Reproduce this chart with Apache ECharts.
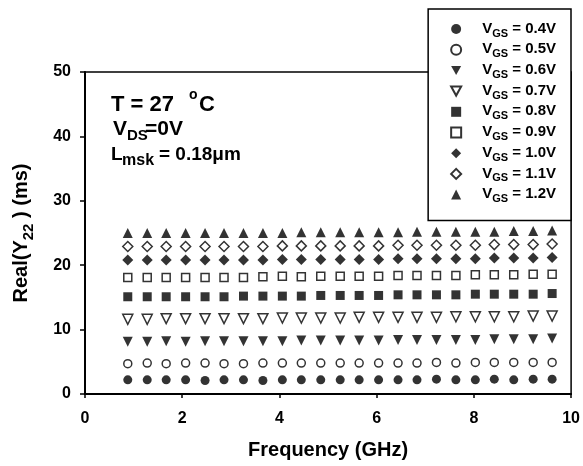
<!DOCTYPE html>
<html>
<head>
<meta charset="utf-8">
<script src="https://cdn.jsdelivr.net/npm/echarts@6/dist/echarts.min.js"></script>
<style>
  html, body { margin: 0; padding: 0; background: #fff; }
  #chart { width: 583px; height: 466px; }
</style>
</head>
<body>
<div id="chart"></div>
<script>
// frequency points (GHz)
const freq = [0.88, 1.28, 1.67, 2.07, 2.47, 2.86, 3.26, 3.66, 4.06, 4.45, 4.85, 5.25,
  5.64, 6.04, 6.44, 6.83, 7.23, 7.63, 8.03, 8.42, 8.82, 9.22, 9.61];

// Real(Y22) in ms, one array per VGS
const v04 = [2.2, 2.2, 2.2, 2.2, 2.1, 2.2, 2.2, 2.1, 2.2, 2.2, 2.2, 2.2, 2.2, 2.2, 2.2, 2.2, 2.3, 2.2, 2.2, 2.3, 2.2, 2.3, 2.3];
const v05 = [4.7, 4.8, 4.7, 4.8, 4.8, 4.7, 4.7, 4.8, 4.8, 4.8, 4.8, 4.8, 4.8, 4.8, 4.8, 4.8, 4.9, 4.8, 4.9, 4.9, 4.9, 4.9, 4.9];
const v06 = [8.1, 8.1, 8.2, 8.1, 8.2, 8.2, 8.2, 8.2, 8.2, 8.3, 8.3, 8.3, 8.3, 8.3, 8.4, 8.4, 8.4, 8.4, 8.4, 8.5, 8.5, 8.5, 8.6];
const v07 = [11.6, 11.6, 11.7, 11.7, 11.7, 11.7, 11.7, 11.7, 11.8, 11.8, 11.8, 11.8, 11.9, 11.9, 11.9, 11.9, 11.9, 12.0, 12.0, 12.0, 12.0, 12.1, 12.1];
const v08 = [15.1, 15.1, 15.1, 15.1, 15.1, 15.1, 15.2, 15.2, 15.2, 15.2, 15.3, 15.3, 15.3, 15.3, 15.4, 15.4, 15.4, 15.4, 15.5, 15.5, 15.5, 15.5, 15.6];
const v09 = [18.1, 18.1, 18.1, 18.1, 18.1, 18.1, 18.1, 18.2, 18.3, 18.2, 18.3, 18.3, 18.3, 18.3, 18.4, 18.4, 18.4, 18.4, 18.5, 18.5, 18.5, 18.6, 18.6];
const v10 = [20.8, 20.8, 20.8, 20.8, 20.8, 20.8, 20.8, 20.8, 20.9, 20.9, 20.9, 20.9, 20.9, 20.9, 21.0, 21.0, 21.0, 21.0, 21.0, 21.1, 21.1, 21.1, 21.2];
const v11 = [22.9, 22.9, 22.9, 22.9, 22.9, 22.9, 22.9, 22.9, 23.0, 23.0, 23.0, 23.0, 23.0, 23.0, 23.1, 23.1, 23.1, 23.1, 23.1, 23.2, 23.2, 23.2, 23.3];
const v12 = [25.0, 25.0, 25.0, 25.0, 25.0, 25.0, 25.0, 25.0, 25.0, 25.1, 25.1, 25.1, 25.1, 25.1, 25.1, 25.2, 25.2, 25.2, 25.2, 25.2, 25.3, 25.3, 25.4];

const vgsLabels = ["0.4V", "0.5V", "0.6V", "0.7V", "0.8V", "0.9V", "1.0V", "1.1V", "1.2V"];
const xTicks = [0, 2, 4, 6, 8, 10];
const yTicks = [0, 10, 20, 30, 40, 50];

const FONT = "'Liberation Sans', Arial, sans-serif";
const DOWN_TRI = "path://M0,0L10,0L5,9Z";

// 每条曲线的符号：实心 / 空心交替
const markers = [
  { symbol: "circle", size: 9, hollow: false, rotate: 0 },
  { symbol: "circle", size: 8, hollow: true, rotate: 0 },
  { symbol: "triangle", size: 10, hollow: false, rotate: 180 },
  { symbol: "triangle", size: 10, hollow: true, rotate: 180 },
  { symbol: "rect", size: 9, hollow: false, rotate: 0 },
  { symbol: "rect", size: 8, hollow: true, rotate: 0 },
  { symbol: "diamond", size: 11, hollow: false, rotate: 0 },
  { symbol: "diamond", size: 10, hollow: true, rotate: 0 },
  { symbol: "triangle", size: 10, hollow: false, rotate: 0 },
];

const allData = [v04, v05, v06, v07, v08, v09, v10, v11, v12];

const chart = echarts.init(document.getElementById("chart"));

const series = allData.map((vals, i) => ({
  name: vgsLabels[i],
  type: "scatter",
  data: vals.map((v, k) => [freq[k], v]),
  symbol: markers[i].symbol,
  symbolSize: markers[i].size,
  symbolRotate: markers[i].rotate,
  itemStyle: markers[i].hollow
    ? { color: "#fff", borderColor: "#000", borderWidth: 1.5 }
    : { color: "#000" },
  z: 3,
}));

// 注释文字（上标 / 下标分开放）
const txt = (x, y, text, size) => ({
  type: "text",
  x, y,
  style: { text, font: `bold ${size}px ${FONT}`, fill: "#000", verticalAlign: "middle" },
  z: 10,
});

const bold = (size, extra) => Object.assign(
  { fontFamily: FONT, fontWeight: "bold", fontSize: size, color: "#000" }, extra);

chart.setOption({
  animation: false,
  backgroundColor: "#fff",
  grid: {
    left: 85, right: 11, top: 72, bottom: 72,
    show: true, borderColor: "#000", borderWidth: 1.5,
  },
  xAxis: {
    type: "value",
    min: xTicks[0], max: xTicks[xTicks.length - 1], interval: 2,
    name: "Frequency (GHz)",
    nameLocation: "middle",
    nameGap: 46,
    nameTextStyle: bold(20),
    axisLine: { lineStyle: { color: "#000", width: 2 } },
    axisTick: { inside: false, length: 4, lineStyle: { color: "#000", width: 1.5 } },
    axisLabel: Object.assign({ margin: 17 }, bold(16)),
    splitLine: { show: false },
  },
  yAxis: {
    type: "value",
    min: yTicks[0], max: yTicks[yTicks.length - 1], interval: 10,
    name: "{a|Real(Y}{s|22}{a| ) (ms)}",
    nameLocation: "middle",
    nameRotate: 90,
    nameGap: 52,
    nameTextStyle: {
      rich: {
        a: bold(20, { lineHeight: 22, verticalAlign: "top" }),
        s: bold(15, { lineHeight: 16, padding: [10, 0, 0, 0], verticalAlign: "top" }),
      },
    },
    axisLine: { lineStyle: { color: "#000", width: 2 } },
    axisTick: { inside: false, length: 5, lineStyle: { color: "#000", width: 1.5 } },
    axisLabel: Object.assign({ margin: 14 }, bold(16)),
    splitLine: { show: false },
  },
  legend: {
    orient: "vertical",
    right: 12,
    top: 9,
    padding: [12, 15, 16, 22],
    backgroundColor: "#fff",
    borderColor: "#000",
    borderWidth: 1.5,
    borderRadius: 0,
    itemWidth: 10,
    itemHeight: 10,
    itemGap: 2.7,
    data: vgsLabels.map((n, i) => (markers[i].rotate ? { name: n, icon: DOWN_TRI } : { name: n })),
    formatter: (n) => "{f|V}{s|GS}{v| = " + n + "}",
    textStyle: {
      rich: {
        f: bold(15, { lineHeight: 16, verticalAlign: "top", padding: [0, 0, 0, 16] }),
        v: bold(15, { lineHeight: 16, verticalAlign: "top" }),
        s: bold(11, { lineHeight: 12, padding: [7, 0, 0, 0], verticalAlign: "top" }),
      },
    },
  },
  graphic: [
    txt(111, 105, "T = 27", 22),
    txt(189, 95, "o", 14),
    txt(199, 105, "C", 22),
    txt(113, 129, "V", 21),
    txt(127, 136, "DS", 15),
    txt(145, 129, "=0V", 21),
    txt(111, 155, "L", 19),
    txt(122, 161, "msk", 16),
    txt(159, 155, "= 0.18\u03bcm", 19),
  ],
  series,
});
</script>
</body>
</html>
